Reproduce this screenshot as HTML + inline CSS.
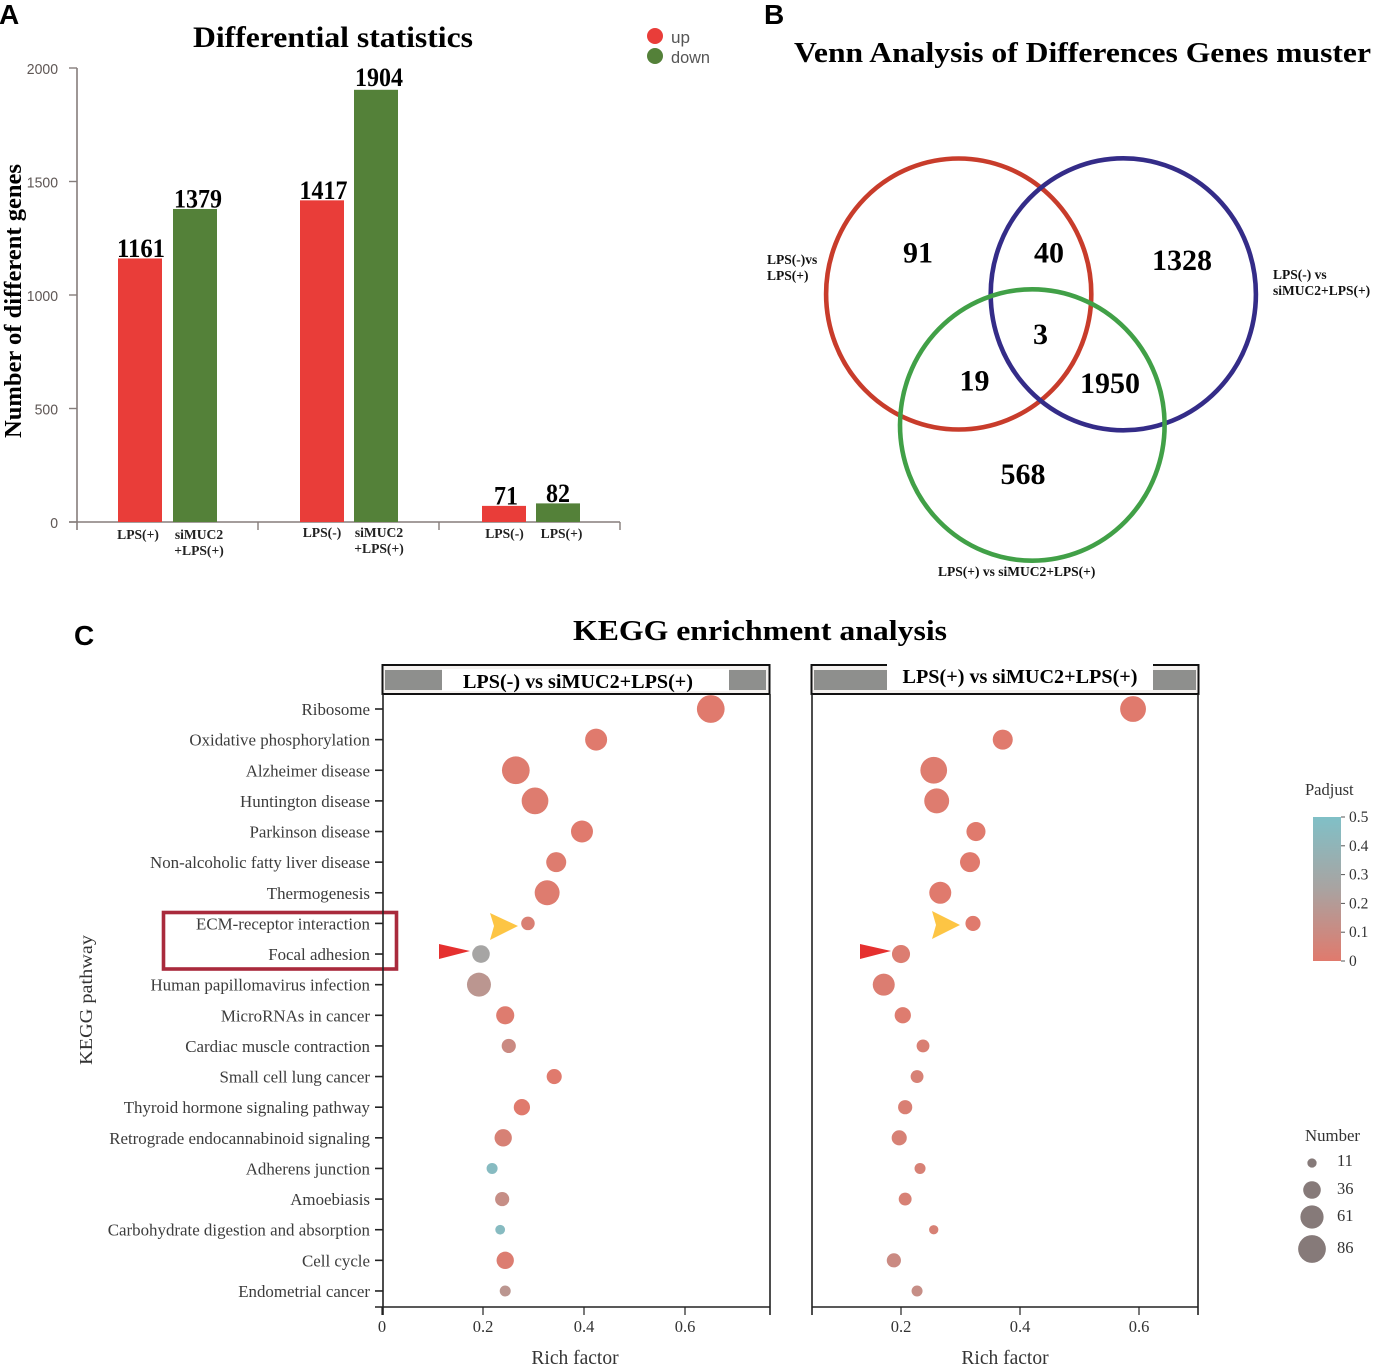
<!DOCTYPE html>
<html lang="en">
<head>
<meta charset="utf-8">
<title>Differential statistics, Venn and KEGG enrichment</title>
<style>
html,body{margin:0;padding:0;background:#fff;width:1399px;height:1367px;overflow:hidden}
svg{display:block;font-family:"Liberation Serif",serif}
</style>
</head>
<body>
<svg id="fig" xmlns="http://www.w3.org/2000/svg" width="1399" height="1367" viewBox="0 0 1399 1367">
  <g font-family="Liberation Sans, sans-serif" font-weight="bold" font-size="28" fill="#000">
    <text x="-1" y="24">A</text>
    <text x="764" y="24">B</text>
    <text x="74" y="645">C</text>
  </g>

  <g id="panelA">
    <text x="193" y="47" font-size="30" font-weight="bold" textLength="280" lengthAdjust="spacingAndGlyphs">Differential statistics</text>
    <text transform="translate(21,438) rotate(-90)" font-size="24" font-weight="bold" textLength="274" lengthAdjust="spacingAndGlyphs">Number of different genes</text>
    <circle cx="655" cy="36" r="8" fill="#e93d39"/>
    <text x="671" y="43" font-family="Liberation Sans, sans-serif" font-size="17" fill="#555" textLength="19" lengthAdjust="spacingAndGlyphs">up</text>
    <circle cx="655" cy="56" r="8" fill="#548139"/>
    <text x="671" y="63" font-family="Liberation Sans, sans-serif" font-size="17" fill="#555" textLength="39" lengthAdjust="spacingAndGlyphs">down</text>
  </g>

  <g id="panelB">
    <text x="794" y="62" font-size="29" font-weight="bold" textLength="577" lengthAdjust="spacingAndGlyphs">Venn Analysis of Differences Genes muster</text>
    <ellipse cx="958.7" cy="294" rx="132.6" ry="135.5" fill="none" stroke="#c83c2b" stroke-width="4.6"/>
    <ellipse cx="1123.3" cy="294.3" rx="132.6" ry="136" fill="none" stroke="#342c88" stroke-width="4.6"/>
    <ellipse cx="1032.3" cy="425" rx="132.3" ry="135.7" fill="none" stroke="#41a047" stroke-width="4.6"/>
    <g font-size="30" font-weight="bold" text-anchor="middle" fill="#000">
      <text x="918" y="262.5">91</text>
      <text x="1049" y="262.5">40</text>
      <text x="1182" y="270">1328</text>
      <text x="1040.5" y="344">3</text>
      <text x="974.5" y="390.5">19</text>
      <text x="1110" y="393">1950</text>
      <text x="1023" y="484">568</text>
    </g>
    <g font-size="13.5" font-weight="bold" fill="#111">
      <text x="767" y="264">LPS(-)vs</text>
      <text x="767" y="280">LPS(+)</text>
      <text x="1273" y="279">LPS(-) vs</text>
      <text x="1273" y="295">siMUC2+LPS(+)</text>
      <text x="938" y="576">LPS(+) vs siMUC2+LPS(+)</text>
    </g>
  </g>

  <g id="panelC">
    <text x="573" y="640" font-size="29" font-weight="bold" textLength="374" lengthAdjust="spacingAndGlyphs">KEGG enrichment analysis</text>
    <text transform="translate(92,1065) rotate(-90)" font-size="18" fill="#333" textLength="130" lengthAdjust="spacingAndGlyphs">KEGG pathway</text>
    <text x="575" y="1364" text-anchor="middle" font-size="19.5" fill="#333">Rich factor</text>
    <text x="1005" y="1364" text-anchor="middle" font-size="19.5" fill="#333">Rich factor</text>

    <g>
      <rect x="382.5" y="665" width="387" height="29" fill="#f4f1ef" stroke="#111" stroke-width="2"/>
      <rect x="385" y="670" width="57" height="20" fill="#8e8f8d"/>
      <rect x="729" y="670" width="37" height="20" fill="#8e8f8d"/>
      <rect x="442" y="669" width="287" height="22" fill="#fff"/>
      <text x="578" y="688" text-anchor="middle" font-size="19.5" font-weight="bold" textLength="230" lengthAdjust="spacingAndGlyphs">LPS(-) vs siMUC2+LPS(+)</text>
    </g>
    <g>
      <rect x="811.5" y="665" width="387" height="29" fill="#f4f1ef" stroke="#111" stroke-width="2"/>
      <rect x="814" y="670" width="74" height="20" fill="#8e8f8d"/>
      <rect x="1153" y="670" width="43" height="20" fill="#8e8f8d"/>
      <rect x="887" y="664" width="266" height="26" fill="#fff"/>
      <text x="1020" y="683" text-anchor="middle" font-size="19.5" font-weight="bold" textLength="235" lengthAdjust="spacingAndGlyphs">LPS(+) vs siMUC2+LPS(+)</text>
    </g>

    <rect x="163.5" y="912.5" width="233" height="56.5" fill="none" stroke="#a92a3c" stroke-width="3.6"/>
    <polygon points="490,913 518,926 490,940 494,926" fill="#fdc544"/>
    <polygon points="932,911 960,925 932,939 936,925" fill="#fdc544"/>
    <polygon points="439,944 470,951 439,959" fill="#e5302f"/>
    <polygon points="860,944 891,951 860,959" fill="#e5302f"/>

    <text x="1305" y="795" font-size="16.5" fill="#333">Padjust</text>
    <text x="1305" y="1141" font-size="16.8" fill="#333">Number</text>
  </g>
  <defs>
    <linearGradient id="padjGrad" x1="0" y1="1" x2="0" y2="0">
      <stop offset="0" stop-color="#e07a6d"/>
      <stop offset="0.5" stop-color="#a9a3a1"/>
      <stop offset="1" stop-color="#80c0c7"/>
    </linearGradient>
  </defs>
</svg>
<script>
// Panel A data
var barGroups = [["LPS(+)", "siMUC2|+LPS(+)"], ["LPS(-)", "siMUC2|+LPS(+)"], ["LPS(-)", "LPS(+)"]];
var upValues = [1161, 1417, 71];
var downValues = [1379, 1904, 82];
var barTicks = [0, 500, 1000, 1500, 2000];

// Panel C data
var pathways = ["Ribosome","Oxidative phosphorylation","Alzheimer disease","Huntington disease","Parkinson disease","Non-alcoholic fatty liver disease","Thermogenesis","ECM-receptor interaction","Focal adhesion","Human papillomavirus infection","MicroRNAs in cancer","Cardiac muscle contraction","Small cell lung cancer","Thyroid hormone signaling pathway","Retrograde endocannabinoid signaling","Adherens junction","Amoebiasis","Carbohydrate digestion and absorption","Cell cycle","Endometrial cancer"];
var richLeft = [0.651,0.424,0.265,0.303,0.396,0.345,0.327,0.289,0.196,0.192,0.244,0.251,0.341,0.277,0.240,0.218,0.238,0.234,0.244,0.244];
var numberLeft = [86,55,86,80,55,46,70,22,36,65,38,24,27,31,35,15,24,12,35,15];
var padjLeft = [0,0,0.01,0.01,0,0.01,0.01,0.03,0.27,0.17,0.01,0.10,0,0,0.04,0.46,0.12,0.46,0.02,0.17];
var richRight = [0.590,0.371,0.255,0.260,0.326,0.316,0.266,0.321,0.200,0.171,0.203,0.237,0.227,0.207,0.197,0.232,0.207,0.255,0.188,0.227];
var numberRight = [75,46,80,70,42,46,55,27,38,55,31,20,20,24,27,15,20,11,24,15];
var padjRight = [0,0,0.01,0.01,0,0,0,0,0.02,0.02,0.01,0.03,0.04,0.03,0.04,0.04,0.04,0.04,0.10,0.12];
var ticksLeft = [0, 0.2, 0.4, 0.6];
var ticksRight = [0.2, 0.4, 0.6];
var padjTicks = [0, 0.1, 0.2, 0.3, 0.4, 0.5];
var numberTicks = [11, 36, 61, 86];

var NS = "http://www.w3.org/2000/svg";
var panelA = document.getElementById("panelA");
var panelC = document.getElementById("panelC");

function make(parent, tag, attrs, txt) {
  var e = document.createElementNS(NS, tag);
  for (var k in attrs) e.setAttribute(k, attrs[k]);
  if (txt !== undefined) e.textContent = txt;
  parent.appendChild(e);
  return e;
}
function slug(s) { return String(s).toLowerCase().replace(/[^a-z0-9]+/g, "-").replace(/^-|-$/g, ""); }

// Axis functions
function yBar(v) { return 522 - v * 0.227; }
function xLeft(v) { return 382 + v * 505; }
function xRight(v) { return 782 + v * 595; }
function yRow(i) { return 709 + i * 30.63; }
function radius(n) { return 1.55 * Math.sqrt(n) - 0.5; }
function yPadj(p) { return 961 - p * 288; }
function mix(a, b, t) { return Math.round(a + (b - a) * t); }
function padjColor(p) {
  var lo = [224,122,109], mid = [169,163,161], hi = [128,192,199], c = [];
  var t = Math.min(p, 0.5) / 0.25;
  for (var i = 0; i < 3; i++) c.push(t <= 1 ? mix(lo[i], mid[i], t) : mix(mid[i], hi[i], t - 1));
  return "rgb(" + c.join(",") + ")";
}

// Panel A axes
var barAxisColor = "#857d7b";
var barAxis = make(panelA, "g", {});


make(barAxis, "line", {x1:77, y1:yBar(2000), x2:77, y2:530, stroke:barAxisColor, "stroke-width":1.6});
make(barAxis, "line", {x1:69, y1:522, x2:620, y2:522, stroke:barAxisColor, "stroke-width":1.6});
barTicks.forEach(function (t) {
  make(barAxis, "line", {x1:69, y1:yBar(t), x2:77, y2:yBar(t), stroke:barAxisColor, "stroke-width":1.4});
  var lab = make(barAxis, "text", {x:58, y:yBar(t) + 6, "text-anchor":"end", "font-family":"Liberation Sans, sans-serif", "font-size":15, fill:"#5f5755", textLength:String(t).length * 7.8, lengthAdjust:"spacingAndGlyphs"}, t);
  
  
});

// Panel A bars: layout helpers (pixel nudges belong to the drawing, not the data)
function barLeft(g, s) { return (g === 2 ? 482 : 118 + g * 182) + s * (g === 2 ? 54 : 55 - g); }
function valueCenterShift(g, s) { return [[1, 3], [1.5, 3], [2, 0]][g][s]; }
function valueRise(g, s) { return (g === 1 && s === 1) ? 4 : 1.5; }
function labelCenterShift(g, s) { return [[-2, 4], [0, 3], [0.5, 3.5]][g][s]; }
function labelBaseline(g) { return g === 0 ? 539 : (g === 1 ? 537 : 538); }

barGroups.forEach(function (labels, g) {
  var vals = [upValues[g], downValues[g]];
  var fills = ["#e93d39", "#548139"];
  vals.forEach(function (v, s) {
    var x = barLeft(g, s);
    var y = yBar(v);
    var bar = make(panelA, "rect", {x:x, y:y, width:44, height:522 - y, fill:fills[s]});
    
    
    var val = make(panelA, "text", {x:x + 22 + valueCenterShift(g, s), y:y - valueRise(g, s), "text-anchor":"middle", "font-size":26, "font-weight":"bold", fill:"#000", textLength:String(v).length * 12, lengthAdjust:"spacingAndGlyphs"}, v);
    
    
    var lines = labels[s].split("|");
    lines.forEach(function (ln, li) {
      var lb = make(panelA, "text", {x:x + 22 + labelCenterShift(g, s), y:labelBaseline(g) + li * 16, "text-anchor":"middle", "font-size":13.6, "font-weight":"bold", fill:"#222"}, ln);
      
      
    });
  });
  var tk = make(panelA, "line", {x1:77 + (g + 1) * 181, y1:522, x2:77 + (g + 1) * 181, y2:530, stroke:barAxisColor, "stroke-width":1.4});
  
  
});

// Panel C facets
function drawFacet(name, xScale, ticks, rich, nums, padj, x0, x1) {
  var g = make(panelC, "g", {});
  
  
  var ax = "#222";
  make(g, "line", {x1:x0, y1:694, x2:x0, y2:1315, stroke:ax, "stroke-width":1.6});
  make(g, "line", {x1:x1, y1:694, x2:x1, y2:1315, stroke:ax, "stroke-width":1.6});
  make(g, "line", {x1:x0 - (name === "left" ? 8 : 0), y1:1307, x2:x1, y2:1307, stroke:ax, "stroke-width":1.6});
  ticks.forEach(function (t) {
    var xp = xScale(t);
    make(g, "line", {x1:xp, y1:1307, x2:xp, y2:1315, stroke:ax, "stroke-width":1.2});
    var tl = make(g, "text", {x:xp, y:1332, "text-anchor":"middle", "font-size":16.5, fill:"#333"}, t);
    
    
  });
  pathways.forEach(function (p, i) {
    var dot = make(g, "circle", {cx:xScale(rich[i]), cy:yRow(i), r:radius(nums[i]), fill:padjColor(padj[i])});
    
    
  });
}
pathways.forEach(function (p, i) {
  var tick = make(panelC, "line", {x1:375, y1:yRow(i), x2:383, y2:yRow(i), stroke:"#222", "stroke-width":1.6});
  
  
  var lab = make(panelC, "text", {x:370, y:yRow(i) + 6, "text-anchor":"end", "font-size":16.9, fill:"#3c3c3c"}, p);
  
  
});
drawFacet("left", xLeft, ticksLeft, richLeft, numberLeft, padjLeft, 383, 770);
drawFacet("right", xRight, ticksRight, richRight, numberRight, padjRight, 812, 1198);

// Padjust legend
var bar = make(panelC, "rect", {x:1313, y:yPadj(0.5), width:28, height:yPadj(0) - yPadj(0.5), fill:"url(#padjGrad)"});


padjTicks.forEach(function (t) {
  make(panelC, "line", {x1:1341, y1:yPadj(t), x2:1345, y2:yPadj(t), stroke:"#555", "stroke-width":1});
  var tl = make(panelC, "text", {x:1349, y:yPadj(t) + 5, "font-size":15.5, fill:"#333"}, t);
  
  
});

// Number legend
function legendRowY(i) { return 1163 + i * 27 + (i === 3 ? 5 : 0); }
numberTicks.forEach(function (n, i) {
  var cy = legendRowY(i);
  var c = make(panelC, "circle", {cx:1312, cy:cy, r:radius(n), fill:"#867a79"});
  
  
  var t = make(panelC, "text", {x:1337, y:cy + (i === 0 ? 3 : 4), "font-size":16.5, fill:"#333"}, n);
  
  
});
</script>
</body>
</html>
